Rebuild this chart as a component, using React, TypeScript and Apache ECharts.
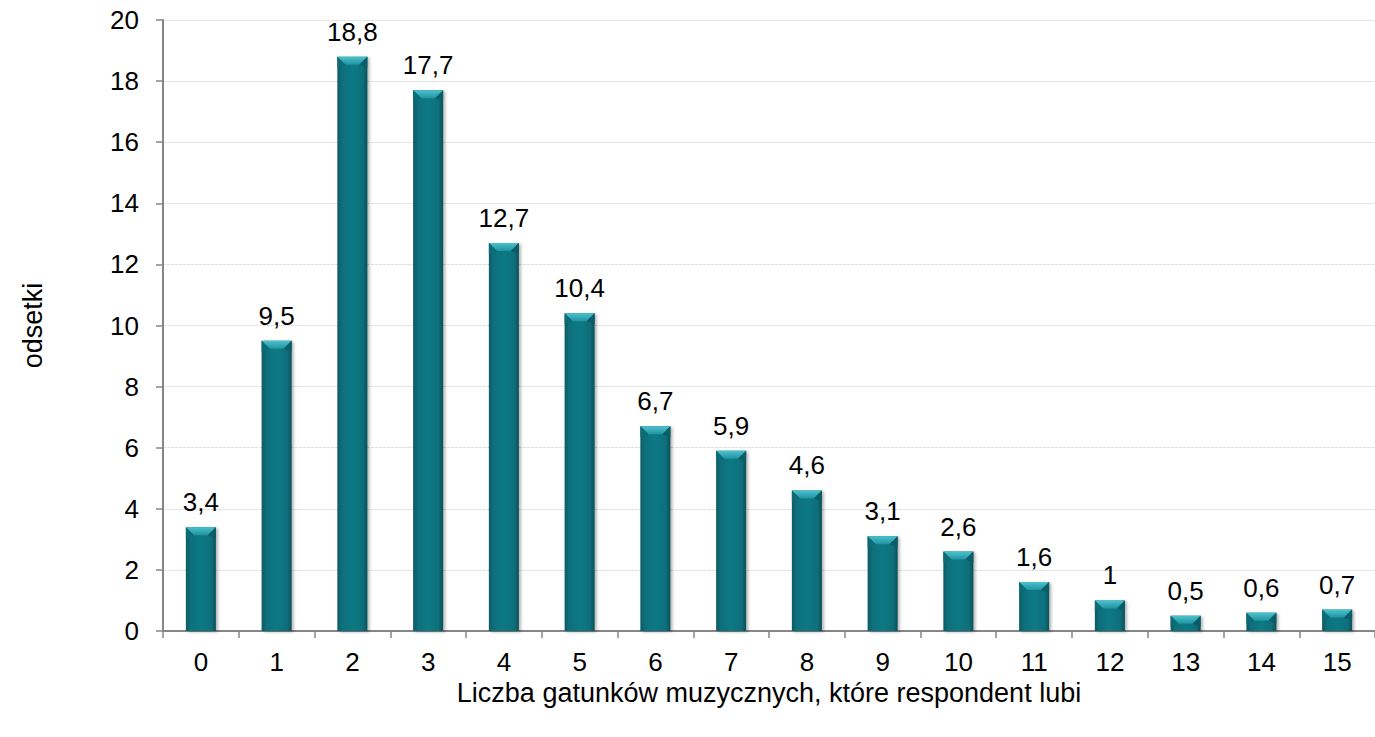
import React, { useEffect, useRef } from "react";
import * as echarts from "echarts";

const categories = ["0", "1", "2", "3", "4", "5", "6", "7", "8", "9", "10", "11", "12", "13", "14", "15"];
const values = [3.4, 9.5, 18.8, 17.7, 12.7, 10.4, 6.7, 5.9, 4.6, 3.1, 2.6, 1.6, 1, 0.5, 0.6, 0.7];
const yTicks = { min: 0, max: 20, interval: 2 };
const xTitle = "Liczba gatunków muzycznych, które respondent lubi";
const yTitle = "odsetki";

const FONT = "'Liberation Sans', Arial, sans-serif";
const FS = 26;
const TFS = 27;

export default function App() {
  const ref = useRef<HTMLDivElement>(null);
  useEffect(() => {
    document.body.style.margin = "0";
    const chart = echarts.init(ref.current!, null, { renderer: "svg" });
    const barW = 30;
    chart.setOption({
      animation: false,
      backgroundColor: "#ffffff",
      textStyle: { fontFamily: FONT },
      grid: { left: 163, right: -9, top: 20, bottom: 106, containLabel: false },
      xAxis: {
        type: "category",
        data: categories,
        name: xTitle,
        nameLocation: "middle",
        nameGap: 48,
        nameTextStyle: { fontFamily: FONT, fontSize: TFS, color: "#000" },
        axisLine: { lineStyle: { color: "#868686", width: 2 } },
        axisTick: { show: true, length: 7, lineStyle: { color: "#868686", width: 1.5 } },
        axisLabel: { fontFamily: FONT, fontSize: FS, color: "#000", margin: 18 },
        splitLine: { show: false },
      },
      yAxis: {
        type: "value",
        min: yTicks.min,
        max: yTicks.max,
        interval: yTicks.interval,
        name: yTitle,
        nameLocation: "middle",
        nameGap: 117,
        nameRotate: 90,
        nameTextStyle: { fontFamily: FONT, fontSize: TFS, color: "#000" },
        axisLine: { show: true, lineStyle: { color: "#868686", width: 2 } },
        axisTick: { show: true, length: 7, lineStyle: { color: "#868686", width: 1.5 } },
        axisLabel: { fontFamily: FONT, fontSize: FS, color: "#000", margin: 24 },
        splitLine: { show: true, lineStyle: { color: "#dedede", width: 1, type: [3, 1] } },
      },
      series: [
        {
          type: "bar",
          data: values,
          barWidth: barW,
          itemStyle: {
            color: new echarts.graphic.LinearGradient(0, 0, 1, 0, [
              { offset: 0, color: "#095a64" },
              { offset: 0.15, color: "#0d6f7a" },
              { offset: 0.5, color: "#0f7985" },
              { offset: 0.85, color: "#0d6f7a" },
              { offset: 1, color: "#074f57" },
            ]),
            shadowColor: "rgba(0,0,0,0.3)",
            shadowBlur: 3,
            shadowOffsetX: 2,
            shadowOffsetY: 1,
          },
          label: {
            show: true,
            position: "top",
            distance: 12,
            fontFamily: FONT,
            fontSize: FS,
            color: "#000",
            formatter: (p: any) => String(p.value).replace(".", ","),
          },
          z: 2,
        },
        {
          type: "custom",
          data: values.map((v, i) => [i, v]),
          z: 3,
          silent: true,
          renderItem: (params: any, api: any) => {
            const top = api.coord([api.value(0), api.value(1)]);
            const cx = top[0];
            const y = top[1];
            const half = barW / 2;
            const h = 8;
            const inset = 8;
            return {
              type: "group",
              children: [
                {
                  type: "polygon",
                  shape: {
                    points: [
                      [cx - half, y],
                      [cx + half, y],
                      [cx + half - inset, y + h],
                      [cx - half + inset, y + h],
                    ],
                  },
                  style: {
                    fill: new echarts.graphic.LinearGradient(0, 0, 0, 1, [
                      { offset: 0, color: "#4cc2ce" },
                      { offset: 1, color: "#1f94a0" },
                    ]),
                  },
                },
                {
                  type: "polygon",
                  shape: {
                    points: [
                      [cx - half, y],
                      [cx - half + inset, y + h],
                      [cx - half, y + h + 3],
                    ],
                  },
                  style: { fill: "#0d6b75" },
                },
                {
                  type: "polygon",
                  shape: {
                    points: [
                      [cx + half, y],
                      [cx + half - inset, y + h],
                      [cx + half, y + h + 3],
                    ],
                  },
                  style: { fill: "#0a5d66" },
                },
              ],
            };
          },
        },
      ],
    });
    return () => chart.dispose();
  }, []);
  return <div ref={ref} style={{ width: 1375, height: 737 }} />;
}
